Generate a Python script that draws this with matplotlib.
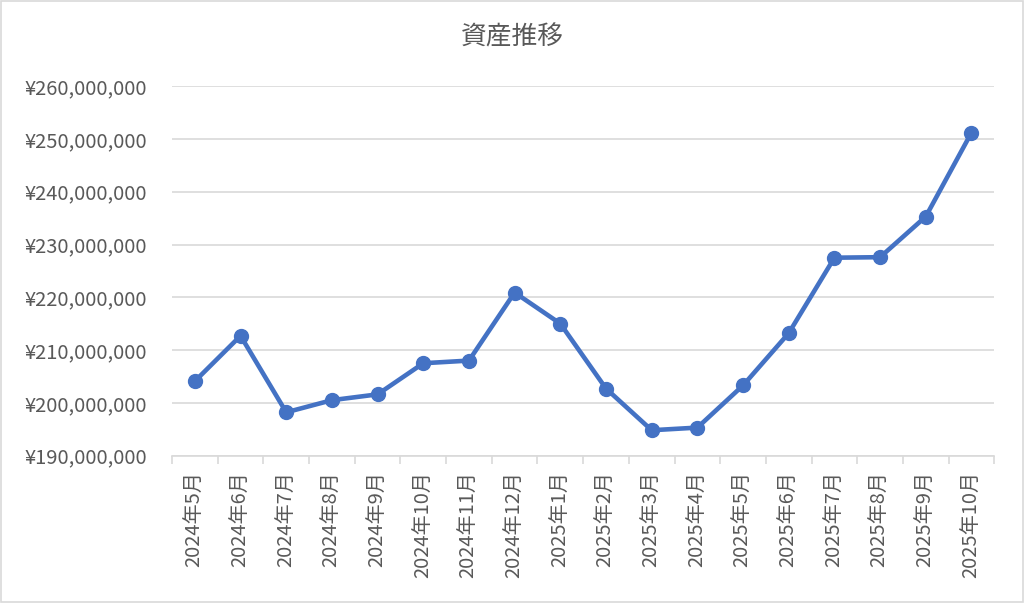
import matplotlib
matplotlib.use("Agg")
import matplotlib.pyplot as plt
from matplotlib.patches import Rectangle
from matplotlib.ticker import FuncFormatter, FixedLocator
import numpy as np

plt.rcParams["font.family"] = ["Noto Sans CJK JP", "DejaVu Sans"]

TITLE = "資産推移"
months = [
    "2024年5月", "2024年6月", "2024年7月", "2024年8月", "2024年9月",
    "2024年10月", "2024年11月", "2024年12月", "2025年1月", "2025年2月",
    "2025年3月", "2025年4月", "2025年5月", "2025年6月", "2025年7月",
    "2025年8月", "2025年9月", "2025年10月",
]
assets = [
    204.1, 212.7, 198.2, 200.5, 201.6, 207.5, 208.0, 220.9, 215.0,
    202.7, 194.8, 195.3, 203.3, 213.2, 227.5, 227.6, 235.3, 251.2,
]  # million yen
assets_yen = [v * 1e6 for v in assets]

TEXT_COLOR = "#595959"
GRID_COLOR = "#d9d9d9"
LINE_COLOR = "#4472C4"

fig = plt.figure(figsize=(10.24, 6.03), dpi=100)
fig.patches.append(Rectangle((0.001, 0.001), 0.998, 0.997, transform=fig.transFigure,
                             fill=False, edgecolor=GRID_COLOR, linewidth=1.2))
ax = fig.add_axes([0.168, 0.2445, 0.803, 0.6125])

x = np.arange(len(months))
ax.plot(x, assets_yen, color=LINE_COLOR, linewidth=3.3, marker="o", markersize=10,
        solid_joinstyle="round", zorder=3)

ax.set_xlim(-0.5, len(months) - 0.5)
ax.set_ylim(190e6, 260e6)
ax.set_yticks(np.arange(190e6, 260e6 + 1, 10e6))
ax.yaxis.set_major_formatter(FuncFormatter(lambda v, _: f"¥{v:,.0f}"))
ax.grid(axis="y", color=GRID_COLOR, linewidth=1.2)
ax.set_axisbelow(True)

ax.set_xticks(x)
ax.set_xticklabels(months, rotation=90)
ax.xaxis.set_minor_locator(FixedLocator(np.arange(-0.5, len(months), 1.0)))
ax.tick_params(axis="x", which="major", length=0, pad=11, labelsize=14.5, labelcolor=TEXT_COLOR)
ax.tick_params(axis="x", which="minor", length=6, color=GRID_COLOR, width=1.2)
ax.tick_params(axis="y", length=0, pad=18, labelsize=14.5, labelcolor=TEXT_COLOR)

for side in ["top", "left", "right"]:
    ax.spines[side].set_visible(False)
ax.spines["bottom"].set_color(GRID_COLOR)
ax.spines["bottom"].set_linewidth(1.2)

fig.text(0.5, 1 - 37 / 603, TITLE, ha="center", va="center", fontsize=18.5, color=TEXT_COLOR)

fig.savefig("out.png", dpi=100)
